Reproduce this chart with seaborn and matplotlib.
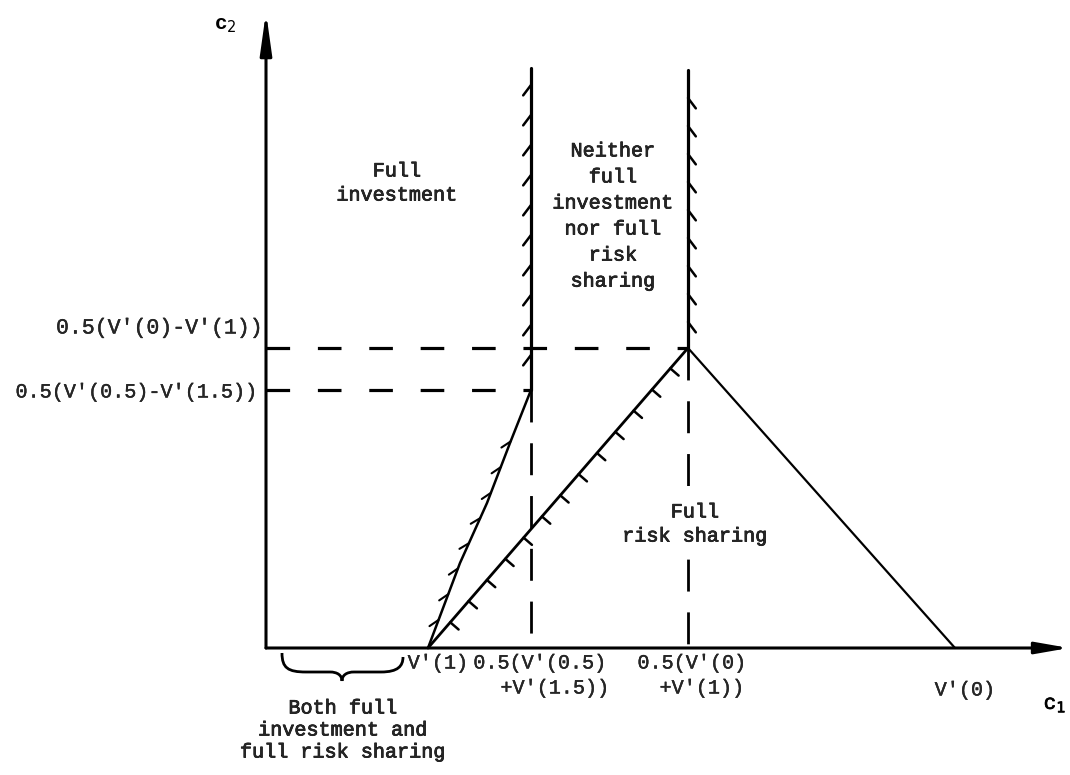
import numpy as np
import matplotlib
matplotlib.use("Agg")
import matplotlib.pyplot as plt
import matplotlib.patheffects as pe
from matplotlib.path import Path
from matplotlib.patches import PathPatch
import seaborn as sns

# key positions of the diagram (c1 along the bottom, c2 up the side)
c1_v1 = 162        # V'(1)
c1_mid_a = 265     # 0.5(V'(0.5)+V'(1.5))
c1_mid_b = 422     # 0.5(V'(0)+V'(1))
c1_v0 = 689        # V'(0)
c2_peak = 300      # 0.5(V'(0)-V'(1))
c2_kink = 258      # 0.5(V'(0.5)-V'(1.5))
c2_top_a = 580
c2_top_b = 578
c1_axis_end = 803
c2_axis_end = 636

# bent boundary from V'(1) up to the kink
curve_c1 = [162, 194, 221, 244, 265]
curve_c2 = [0, 85, 145, 205, 258]

xtick_labels = ["V'(1)", "0.5(V'(0.5)", "+V'(1.5))", "0.5(V'(0)", "+V'(1))", "V'(0)"]
ytick_labels = ["0.5(V'(0)-V'(1))", "0.5(V'(0.5)-V'(1.5))"]

sns.set_theme(style="white")
plt.rcParams["font.family"] = ["Liberation Mono", "DejaVu Sans Mono"]
plt.rcParams["lines.scale_dashes"] = False

fig = plt.figure(figsize=(10.7, 7.75), dpi=100)
ax = fig.add_axes([0, 0, 1, 1])
ax.set_xlim(-266, 804)
ax.set_ylim(-127, 648)
ax.set_axis_off()

ink = "black"
fs = 14.5
thin = [pe.withStroke(linewidth=0.25, foreground=ink)]
heavy = [pe.withStroke(linewidth=0.5, foreground=ink)]


def hatch(xs, ys, start, step, count, angle, length, lw=1.6):
    """short tick marks along a polyline, angle measured from the line direction"""
    xs = np.asarray(xs, float)
    ys = np.asarray(ys, float)
    seg = np.hypot(np.diff(xs), np.diff(ys))
    cum = np.concatenate([[0], np.cumsum(seg)])
    for k in range(count):
        s = start + k * step
        i = min(np.searchsorted(cum, s) - 1, len(seg) - 1)
        i = max(i, 0)
        t = (s - cum[i]) / seg[i]
        px = xs[i] + t * (xs[i + 1] - xs[i])
        py = ys[i] + t * (ys[i + 1] - ys[i])
        base = np.arctan2(ys[i + 1] - ys[i], xs[i + 1] - xs[i])
        a = base + np.deg2rad(angle)
        ax.plot([px, px + length * np.cos(a)], [py, py + length * np.sin(a)],
                color=ink, lw=lw, solid_capstyle="round")


# axes with arrow heads
ax.annotate("", xy=(0, c2_axis_end), xytext=(0, 0),
            arrowprops=dict(arrowstyle="-|>,head_length=2.5,head_width=0.35",
                            mutation_scale=10, color=ink, lw=2.2, shrinkA=0, shrinkB=0))
ax.annotate("", xy=(c1_axis_end, 0), xytext=(0, 0),
            arrowprops=dict(arrowstyle="-|>,head_length=2.0,head_width=0.35",
                            mutation_scale=10, color=ink, lw=2.2, shrinkA=0, shrinkB=0))

# solid boundaries
sns.lineplot(x=[c1_mid_a, c1_mid_a], y=[c2_kink, c2_top_a], ax=ax, color=ink,
             lw=2.3, sort=False, estimator=None)
sns.lineplot(x=[c1_mid_b, c1_mid_b], y=[c2_peak, c2_top_b], ax=ax, color=ink,
             lw=2.3, sort=False, estimator=None)
sns.lineplot(x=[c1_v1, c1_mid_b], y=[0, c2_peak], ax=ax, color=ink,
             lw=2.0, sort=False, estimator=None)
sns.lineplot(x=[c1_mid_b, c1_v0], y=[c2_peak, 0], ax=ax, color=ink,
             lw=1.6, sort=False, estimator=None)
sns.lineplot(x=curve_c1, y=curve_c2, ax=ax, color=ink,
             lw=1.8, sort=False, estimator=None)

# dashed guides
dash_h = (0, (17, 20))
dash_v = (0, (23, 15))
ax.plot([0, c1_mid_b], [c2_peak, c2_peak], color=ink, lw=2.3, ls=dash_h)
ax.plot([0, c1_mid_a], [c2_kink, c2_kink], color=ink, lw=2.3, ls=dash_h)
ax.plot([c1_mid_a, c1_mid_a], [c2_kink, 0], color=ink, lw=2.0, ls=dash_v)
ax.plot([c1_mid_b, c1_mid_b], [c2_peak, 0], color=ink, lw=2.0, ls=dash_v)

# hatching on the region boundaries
hatch([c1_mid_a, c1_mid_a], [c2_top_a, c2_kink], 17, 30, 10, -37, 13, lw=1.8)
hatch([c1_mid_b, c1_mid_b], [c2_top_b, c2_peak], 28, 28, 9, 37, 13, lw=1.8)
hatch([c1_v1, c1_mid_b], [0, c2_peak], 34, 28, 13, -90, 11, lw=1.8)
hatch(curve_c1, curve_c2, 30, 27.5, 8, 145, 11, lw=1.5)

# brace under the axis
verts = [(16, -5), (16, -20), (22, -24), (40, -24), (64, -24),
         (71, -24), (76, -27), (76, -33),
         (76, -27), (81, -24), (88, -24), (115, -24),
         (132, -24), (137, -18), (137, -9)]
codes = [Path.MOVETO, Path.CURVE4, Path.CURVE4, Path.CURVE4, Path.LINETO,
         Path.CURVE4, Path.CURVE4, Path.CURVE4,
         Path.CURVE4, Path.CURVE4, Path.CURVE4, Path.LINETO,
         Path.CURVE4, Path.CURVE4, Path.CURVE4]
ax.add_patch(PathPatch(Path(verts, codes), fill=False, lw=2.0, color=ink))

# axis names
ax.text(-41, 622, "c$_2$", fontsize=15, ha="center", va="center", color=ink,
        fontweight="bold")
ax.text(789, -57, "c$_1$", fontsize=15, ha="center", va="center", color=ink,
        path_effects=heavy)

# axis value labels
ax.text(-4, c2_peak + 20, ytick_labels[0], fontsize=15.5, ha="right", va="center",
        path_effects=thin)
ax.text(-8, c2_kink - 2, ytick_labels[1], fontsize=fs, ha="right", va="center",
        path_effects=thin)
ax.text(c1_v1 + 10, -15, xtick_labels[0], fontsize=fs, ha="center", va="center",
        path_effects=thin)
ax.text(c1_mid_a + 9, -15, xtick_labels[1], fontsize=fs, ha="center", va="center",
        path_effects=thin)
ax.text(c1_mid_a + 24, -40, xtick_labels[2], fontsize=fs, ha="center", va="center",
        path_effects=thin)
ax.text(c1_mid_b + 4, -15, xtick_labels[3], fontsize=fs, ha="center", va="center",
        path_effects=thin)
ax.text(c1_mid_b + 14, -40, xtick_labels[4], fontsize=fs, ha="center", va="center",
        path_effects=thin)
ax.text(c1_v0 + 10, -42, xtick_labels[5], fontsize=fs, ha="center", va="center",
        path_effects=thin)

# region labels
ax.text(131, 465, "Full\ninvestment", fontsize=fs, ha="center", va="center",
        linespacing=1.34, path_effects=heavy)
ax.text(347, 432, "Neither\nfull\ninvestment\nnor full\nrisk\nsharing",
        fontsize=fs, ha="center", va="center", linespacing=1.47, path_effects=heavy)
ax.text(429, 124, "Full\nrisk sharing", fontsize=fs, ha="center", va="center",
        linespacing=1.34, path_effects=heavy,
        bbox=dict(boxstyle="square,pad=0.35", fc="white", ec="none"))
ax.text(77, -82, "Both full\ninvestment and\nfull risk sharing", fontsize=fs,
        ha="center", va="center", linespacing=1.2, path_effects=heavy)

fig.savefig("out.png", dpi=100, facecolor="white")
